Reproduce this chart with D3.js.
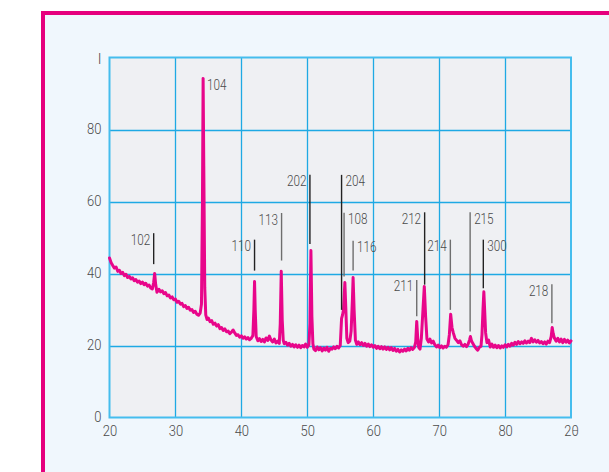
<!DOCTYPE html>
<html><head><meta charset="utf-8">
<script src="https://cdn.jsdelivr.net/npm/d3@7"></script>
<style>
html,body{margin:0;padding:0;background:#fff;}
svg{display:block;}
text{font-family:Roboto,"Liberation Sans",sans-serif;font-weight:300;fill:#4a4a4a;}
</style></head>
<body>
<script>
// ---- data ----
const twoTheta = [20.0,20.25,20.5,20.75,21.0,21.25,21.5,21.75,22.0,22.25,22.5,22.75,23.0,23.25,23.5,23.75,24.0,24.25,24.5,24.75,25.0,25.25,25.5,25.75,26.0,26.25,26.5,26.7,26.85,27.0,27.2,27.5,27.75,28.0,28.25,28.5,28.75,29.0,29.25,29.5,29.75,30.0,30.25,30.5,30.75,31.0,31.25,31.5,31.75,32.0,32.25,32.5,32.75,33.0,33.25,33.5,33.75,33.95,34.1,34.2,34.3,34.45,34.6,34.8,35.0,35.25,35.5,35.75,36.0,36.25,36.5,36.75,37.0,37.25,37.5,37.75,38.0,38.25,38.5,38.75,39.0,39.25,39.5,39.75,40.0,40.25,40.5,40.75,41.0,41.25,41.5,41.75,41.9,42.0,42.1,42.25,42.5,42.75,43.0,43.25,43.5,43.75,44.0,44.25,44.5,44.75,45.0,45.25,45.5,45.75,45.9,46.05,46.2,46.35,46.5,46.75,47.0,47.25,47.5,47.75,48.0,48.25,48.5,48.75,49.0,49.25,49.5,49.75,50.0,50.25,50.4,50.55,50.7,50.85,51.0,51.25,51.5,51.75,52.0,52.25,52.5,52.75,53.0,53.25,53.5,53.75,54.0,54.25,54.5,54.75,55.0,55.2,55.35,55.5,55.7,55.85,56.0,56.2,56.45,56.65,56.85,56.95,57.1,57.3,57.5,57.75,58.0,58.25,58.5,58.75,59.0,59.25,59.5,59.75,60.0,60.25,60.5,60.75,61.0,61.25,61.5,61.75,62.0,62.25,62.5,62.75,63.0,63.25,63.5,63.75,64.0,64.25,64.5,64.75,65.0,65.25,65.5,65.75,66.0,66.25,66.45,66.6,66.75,66.9,67.1,67.3,67.55,67.75,67.95,68.15,68.4,68.6,68.85,69.1,69.35,69.6,69.85,70.1,70.35,70.6,70.85,71.1,71.35,71.55,71.75,71.95,72.15,72.4,72.65,72.9,73.15,73.4,73.65,73.9,74.15,74.4,74.6,74.75,74.9,75.1,75.35,75.6,75.85,76.1,76.35,76.5,76.65,76.78,76.9,77.05,77.25,77.5,77.75,78.0,78.25,78.5,78.75,79.0,79.25,79.5,79.75,80.0,80.25,80.5,80.75,81.0,81.25,81.5,81.75,82.0,82.25,82.5,82.75,83.0,83.25,83.5,83.75,84.0,84.25,84.5,84.75,85.0,85.25,85.5,85.75,86.0,86.25,86.5,86.75,87.0,87.15,87.3,87.5,87.75,88.0,88.25,88.5,88.75,89.0,89.25,89.5,89.75,90.0];
const intensity = [44.3,43.0,42.2,41.5,41.8,40.6,40.9,40.0,40.3,39.4,39.8,38.9,39.2,38.5,38.8,38.0,38.3,37.6,37.9,37.2,37.6,36.9,37.3,36.5,36.8,36.0,35.7,37.5,40.0,37.0,34.8,35.6,34.9,35.2,34.4,34.7,33.8,34.0,33.2,33.5,32.7,32.9,32.0,32.3,31.5,31.7,30.8,31.1,30.3,30.6,29.8,30.0,29.2,29.5,28.7,28.4,29.0,31.5,60,94.2,70,36,28.5,27.2,27.6,26.6,26.9,25.9,26.2,25.4,25.8,24.7,25.0,24.2,24.6,23.8,24.0,23.3,23.7,24.3,23.5,22.8,23.0,22.3,22.7,22.0,22.4,21.8,22.2,21.6,22.0,22.8,30,37.8,30,22.5,21.3,21.9,21.1,21.7,21.0,22.1,21.4,22.6,21.5,21.0,21.8,20.7,21.2,20.6,26,40.6,27,21.5,20.5,20.9,20.1,20.6,19.8,20.3,19.6,20.2,19.5,20.1,19.4,20.0,19.6,20.4,19.5,20.2,26,46.4,28,20.5,19.0,18.6,19.6,18.8,19.4,18.5,19.3,18.7,19.5,18.4,19.2,19.0,19.6,19.1,19.8,19.3,20.0,27.5,28.5,30,37.5,30,22,20.8,21.2,24,33,38.9,30,21.5,20.3,21.0,20.2,20.8,20.0,20.6,19.8,20.4,19.7,20.2,19.5,20.0,19.2,19.8,19.1,19.7,19.0,19.6,18.9,19.5,18.8,19.4,18.6,19.2,18.4,18.9,18.2,18.8,18.4,19.0,18.5,19.2,18.7,19.4,18.9,19.5,21,26.7,22,19.5,19.0,22,30,36.4,28,21.8,21.0,21.8,20.7,21.2,20.2,19.6,20.1,19.4,19.9,19.3,19.8,19.5,20.2,23,28.7,25,23.5,22.0,21.4,20.8,21.3,20.2,19.8,20.3,19.7,20.4,21.5,22.5,21.3,20.6,19.8,19.2,18.7,19.5,19.8,23,30,34.9,30,23.5,20.8,21.5,19.6,20.4,19.5,20.1,19.4,20.0,19.3,19.9,19.5,20.2,19.6,20.3,19.8,20.6,20.1,20.9,20.3,21.1,20.5,21.0,20.6,21.3,20.7,21.2,20.8,22.0,21.0,21.6,20.9,21.4,20.7,21.1,20.5,21.0,20.4,21.2,20.8,22.5,25.0,23.3,22.0,21.2,22.0,21.0,21.8,20.8,21.7,20.9,21.5,20.7,21.3];

const peakHkl    = ["102","104","110","113","202","204","108","116","211","212","214","215","300","218"];
const peakAngle  = [26.7, 34.2, 42.0, 46.1, 50.4, 55.2, 55.58,56.95,66.6, 67.8, 71.7, 74.7, 76.7, 87.1];
const leaderTop  = [51.2, 94.2, 49.4, 56.8, 67.4, 67.4, 56.9, 49.1, 38.2, 57.0, 49.4, 57.0, 49.4, 37.0];
const leaderBot  = [42.6, 94.2, 40.8, 43.6, 48.2, 29.9, 39.2, 40.8, 28.1, 36.9, 29.9, 23.9, 35.9, 26.2];
const labelSide  = ["left","right","left","left","left","right","right","right","left","left","left","right","right","left"];

const xTicks = [20,30,40,50,60,70,80,90];
const xTickLabels = ["20","30","40","50","60","70","80","2θ"];
const yTicks = [0,20,40,60,80,100];
const yTickLabels = ["0","20","40","60","80","I"];

// ---- drawing ----
const W = 609, H = 472;
const svg = d3.select("body").append("svg").attr("width", W).attr("height", H);
svg.append("rect").attr("width", W).attr("height", H).attr("fill", "#ffffff");
// outer panel with pink border
svg.append("rect").attr("x", 43).attr("y", 13).attr("width", W).attr("height", H)
  .attr("fill", "#f0f7fd").attr("stroke", "#e6007e").attr("stroke-width", 4);

const x = d3.scaleLinear().domain([20, 90]).range([109.5, 571]);
const y = d3.scaleLinear().domain([0, 100]).range([417.5, 57.5]);

svg.append("rect").attr("x", x(20)).attr("y", y(100))
  .attr("width", x(90) - x(20)).attr("height", y(0) - y(100)).attr("fill", "#eff0f3");

const grid = svg.append("g").attr("stroke", "#1ea9e4").attr("stroke-width", 1.3);
xTicks.slice(1, -1).forEach(t => grid.append("line")
  .attr("x1", Math.round(x(t)) + 0.5).attr("x2", Math.round(x(t)) + 0.5)
  .attr("y1", y(0)).attr("y2", y(100)));
yTicks.slice(1, -1).forEach(t => grid.append("line")
  .attr("x1", x(20)).attr("x2", x(90))
  .attr("y1", Math.round(y(t)) + 0.5).attr("y2", Math.round(y(t)) + 0.5));
svg.append("rect").attr("x", x(20)).attr("y", y(100))
  .attr("width", x(90) - x(20)).attr("height", y(0) - y(100))
  .attr("fill", "none").attr("stroke", "#45bdee").attr("stroke-width", 2);

// axes (labels only)
const xAxis = d3.axisBottom(x).tickValues(xTicks).tickSize(0).tickPadding(9)
  .tickFormat((d, i) => xTickLabels[i]);
const gx = svg.append("g").attr("transform", `translate(0,${y(0)})`).call(xAxis);
gx.select(".domain").remove();
gx.selectAll("text").attr("font-size", 14).attr("font-family", null).attr("fill", "#4a4a4a")
  .attr("dy", "0.71em")
  .attr("textLength", (d, i) => xTickLabels[i].length * 7.2)
  .attr("lengthAdjust", "spacingAndGlyphs");

const yAxis = d3.axisLeft(y).tickValues(yTicks).tickSize(0).tickPadding(8)
  .tickFormat((d, i) => yTickLabels[i]);
const gy = svg.append("g").attr("transform", `translate(${x(20)},0)`).call(yAxis);
gy.select(".domain").remove();
gy.selectAll("text").attr("font-size", 14).attr("font-family", null).attr("fill", "#4a4a4a")
  .attr("textLength", (d, i) => yTickLabels[i].length * 7.2)
  .attr("lengthAdjust", "spacingAndGlyphs");
gy.selectAll("text").filter((d, i) => yTickLabels[i] === "I")
  .attr("x", -8).attr("dy", "0.46em").attr("fill", "#111").attr("font-weight", 400)
  .attr("textLength", null).attr("lengthAdjust", null);

// pattern line
const pts = twoTheta.map((t, i) => [t, intensity[i]]);
svg.append("path").datum(pts)
  .attr("fill", "none").attr("stroke", "#e8068a").attr("stroke-width", 3)
  .attr("stroke-linejoin", "round").attr("stroke-linecap", "round")
  .attr("d", d3.line().x(d => x(d[0])).y(d => y(d[1])));

// leader lines and labels
const lightSet = new Set(["113","108","116","211","215","218","214"]);
peakHkl.forEach((h, i) => {
  const lx = x(peakAngle[i]);
  if (leaderTop[i] !== leaderBot[i]) {
    svg.append("line").attr("x1", lx).attr("x2", lx)
      .attr("y1", y(leaderTop[i])).attr("y2", y(leaderBot[i]))
      .attr("stroke", lightSet.has(h) ? "#6e6e6e" : "#222").attr("stroke-width", 1.4);
  }
  const left = labelSide[i] === "left";
  svg.append("text")
    .attr("x", left ? lx - 3.5 : lx + 4)
    .attr("y", y(leaderTop[i]) + 11.5)
    .attr("text-anchor", left ? "end" : "start")
    .attr("font-size", 15)
    .attr("textLength", 19.5).attr("lengthAdjust", "spacingAndGlyphs")
    .text(h);
});
</script>
</body></html>
